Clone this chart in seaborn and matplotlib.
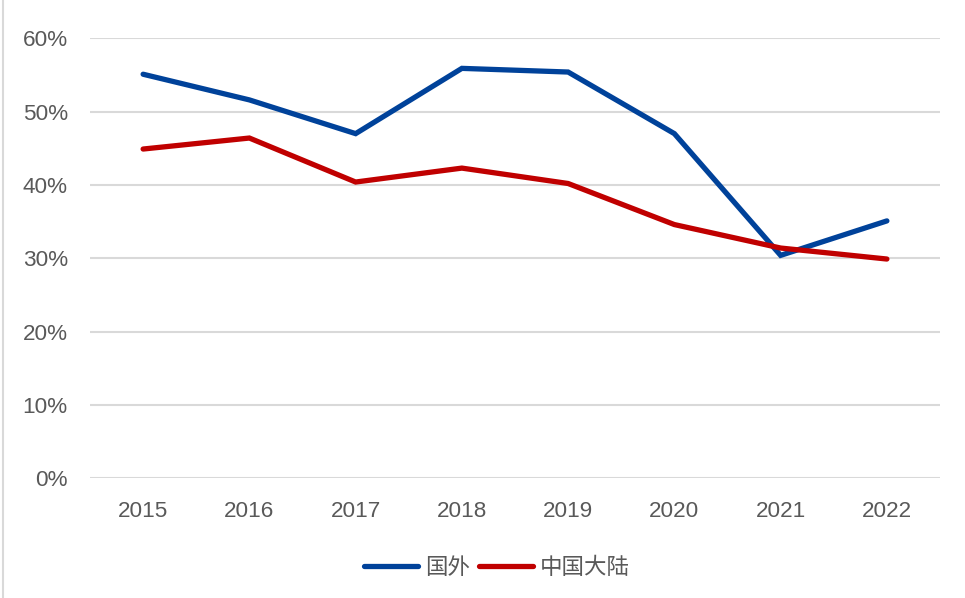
import matplotlib
matplotlib.use("Agg")
import matplotlib.pyplot as plt
import seaborn as sns
import pandas as pd
from matplotlib.lines import Line2D
from matplotlib.ticker import FuncFormatter

years = ["2015", "2016", "2017", "2018", "2019", "2020", "2021", "2022"]
overseas = [55.1, 51.6, 47.0, 55.9, 55.4, 47.0, 30.4, 35.1]
mainland = [44.9, 46.4, 40.4, 42.3, 40.2, 34.6, 31.4, 29.9]
series_names = ["国外", "中国大陆"]
colors = ["#00429A", "#C00000"]

df = pd.DataFrame({"year": years * 2,
                   "value": overseas + mainland,
                   "series": [series_names[0]] * len(years) + [series_names[1]] * len(years)})
df["x"] = list(range(len(years))) * 2

sns.set_theme(style="white")
plt.rcParams["font.family"] = ["Liberation Sans", "Noto Sans CJK SC", "DejaVu Sans"]

fig = plt.figure(figsize=(9.65, 5.98), dpi=100)
ax = fig.add_axes([90 / 965, 1 - 478.3 / 598, 850 / 965, 440 / 598])

sns.lineplot(data=df, x="x", y="value", hue="series", palette=colors,
             linewidth=3.8, ax=ax, legend=False, sort=False)
for line in ax.lines:
    line.set_solid_capstyle("round")
    line.set_solid_joinstyle("miter")

ax.set_xlim(-0.5, len(years) - 0.5)
ax.set_ylim(0, 60)
ax.set_yticks(range(0, 61, 10))
ax.yaxis.set_major_formatter(FuncFormatter(lambda v, p: f"{int(v)}%"))
ax.set_xticks(range(len(years)))
ax.set_xticklabels(years)
ax.set_xlabel("")
ax.set_ylabel("")
ax.grid(axis="y", color="#D9D9D9", linewidth=1.5)
ax.set_axisbelow(True)
for s in ax.spines.values():
    s.set_visible(False)
ax.tick_params(axis="both", length=0, labelsize=16.2, colors="#595959")
ax.tick_params(axis="y", pad=16)
ax.tick_params(axis="x", pad=16)

handles = [Line2D([0], [0], color=c, linewidth=3.8, solid_capstyle="round") for c in colors]
fig.legend(handles, series_names, loc="center", bbox_to_anchor=(497 / 965, 1 - 568 / 598),
           ncol=2, frameon=False, fontsize=16.2, handlelength=2.4, handletextpad=0.3,
           columnspacing=0.4, labelcolor="#595959")

# outer chart frame on the left edge
fig.add_artist(Line2D([3 / 965, 3 / 965], [0, 1], transform=fig.transFigure,
                      color="#D9D9D9", linewidth=1.5))

fig.savefig("out.png", dpi=100)
